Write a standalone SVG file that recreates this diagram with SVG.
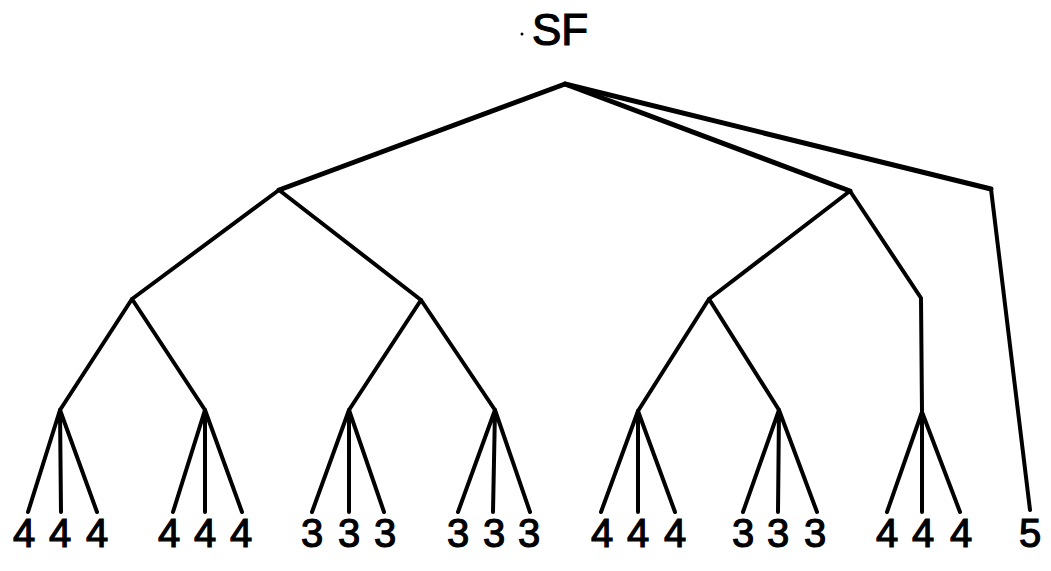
<svg xmlns="http://www.w3.org/2000/svg" width="1051" height="571" viewBox="0 0 1051 571">
  <style>
    .edge { fill: none; stroke: #000; stroke-width: 4; stroke-linecap: round; stroke-linejoin: round; }
    .top { stroke-width: 5; }
    .lbl { font-family: "Liberation Sans", Arial, sans-serif; font-size: 40px; fill: #000; stroke: #000; stroke-width: 1.2; text-anchor: middle; }
    .title { font-family: "Liberation Sans", Arial, sans-serif; font-size: 44px; fill: #000; stroke: #000; stroke-width: 1.2; }
  </style>
  <rect width="1051" height="571" fill="#fff"/>

  <!-- root label -->
  <g id="root">
    <circle cx="522" cy="34" r="1.5" fill="#000"/>
    <text class="title" x="532" y="45">SF</text>
  </g>

  <g id="connectors">
    <!-- root to first level -->
    <polyline class="edge top" points="279,190 565,84 850,191"/>
    <polyline class="edge top" points="565,84 991,189"/>
    <!-- first level to second -->
    <polyline class="edge" points="132,299 279,190 421,300"/>
    <polyline class="edge" points="709,299 850,191 921,298 922,412"/>
    <polyline class="edge" points="991,189 1030,510"/>
    <!-- second level to third -->
    <polyline class="edge" points="60,410 132,299 205,410"/>
    <polyline class="edge" points="349,410 421,300 495,410"/>
    <polyline class="edge" points="638,411 709,299 779,410"/>
    <!-- third level to leaves -->
    <path class="edge" d="M60,410 L28,512 M60,410 L61,512 M60,410 L97,512"/>
    <path class="edge" d="M205,410 L173,512 M205,410 L205,512 M205,410 L242,512"/>
    <path class="edge" d="M349,410 L312,512 M349,410 L349,512 M349,410 L384,512"/>
    <path class="edge" d="M495,410 L458,512 M495,410 L493,512 M495,410 L530,512"/>
    <path class="edge" d="M638,411 L601,512 M638,411 L638,512 M638,411 L675,512"/>
    <path class="edge" d="M779,410 L743,512 M779,410 L778,512 M779,410 L817,512"/>
    <path class="edge" d="M922,412 L887,512 M922,412 L922,512 M922,412 L960,512"/>
  </g>

  <g id="leaves">
    <g id="leaf-group-1">
      <text class="lbl" x="24" y="547">4</text>
      <text class="lbl" x="60" y="547">4</text>
      <text class="lbl" x="97" y="547">4</text>
    </g>
    <g id="leaf-group-2">
      <text class="lbl" x="169" y="547">4</text>
      <text class="lbl" x="205" y="547">4</text>
      <text class="lbl" x="241" y="547">4</text>
    </g>
    <g id="leaf-group-3">
      <text class="lbl" x="312" y="547">3</text>
      <text class="lbl" x="349" y="547">3</text>
      <text class="lbl" x="385" y="547">3</text>
    </g>
    <g id="leaf-group-4">
      <text class="lbl" x="458" y="547">3</text>
      <text class="lbl" x="494" y="547">3</text>
      <text class="lbl" x="529" y="547">3</text>
    </g>
    <g id="leaf-group-5">
      <text class="lbl" x="602" y="547">4</text>
      <text class="lbl" x="638" y="547">4</text>
      <text class="lbl" x="675" y="547">4</text>
    </g>
    <g id="leaf-group-6">
      <text class="lbl" x="743" y="547">3</text>
      <text class="lbl" x="778" y="547">3</text>
      <text class="lbl" x="815" y="547">3</text>
    </g>
    <g id="leaf-group-7">
      <text class="lbl" x="887" y="547">4</text>
      <text class="lbl" x="923" y="547">4</text>
      <text class="lbl" x="961" y="547">4</text>
    </g>
    <g id="leaf-single">
      <text class="lbl" x="1030" y="547">5</text>
    </g>
  </g>
</svg>
